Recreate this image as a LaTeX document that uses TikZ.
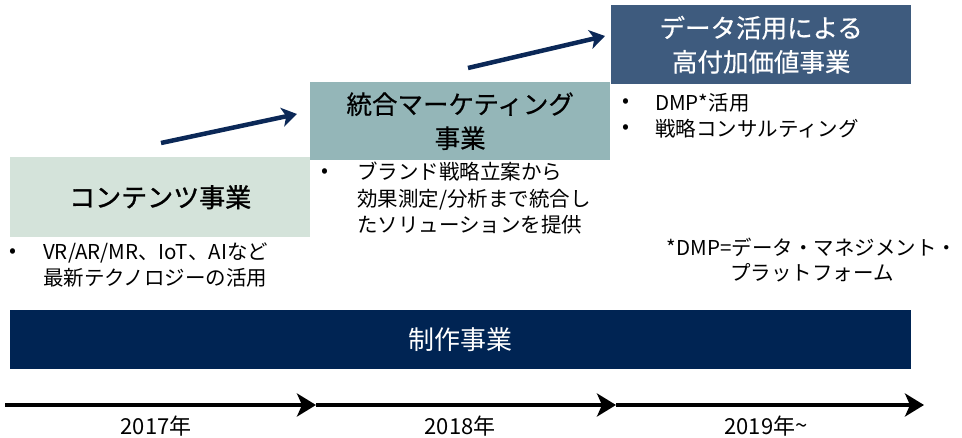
\documentclass[tikz,border=0pt]{standalone}
\usepackage{fontspec}
\setmainfont{Noto Sans CJK JP}
\newfontfamily\semifont[FakeBold=1.2]{Noto Sans CJK JP}
\newfontfamily\lightbold[FakeBold=0.5]{Noto Sans CJK JP}
\usetikzlibrary{arrows.meta}
\definecolor{cbox}{HTML}{D4E3DA}
\definecolor{mbox}{HTML}{94B6B8}
\definecolor{dbox}{HTML}{3E5B7E}
\definecolor{pbar}{HTML}{002453}
\definecolor{arr}{HTML}{0B2857}
\tikzset{
  stage/.style={minimum width=300pt, anchor=north west, inner sep=0pt, align=center},
  titletext/.style={font=\fontsize{25.5}{34}\selectfont\lightbold},
  bodytext/.style={font=\fontsize{20.5}{26.5}\selectfont, align=left, anchor=west, inner sep=0pt},
  bulletmark/.style={font=\fontsize{20.5}{26.5}\selectfont, inner sep=0pt},
  growth/.style={draw=arr, line width=4.5pt, -{Stealth[length=15pt,width=19pt,inset=4pt]}},
  timeline/.style={draw=black, line width=4.5pt, -{Stealth[length=19pt,width=23pt,inset=5pt]}},
  yeartext/.style={font=\fontsize{22}{26}\selectfont, inner sep=0pt}
}
\begin{document}
\begin{tikzpicture}[x=1pt,y=-1pt]
\useasboundingbox (0,0) rectangle (962,438);
% stage boxes
\node[stage, fill=cbox, minimum height=80pt] (content) at (10,157) {};
\node[font=\fontsize{26}{34}\selectfont\semifont] at (content.center) (contentT) {コンテンツ事業};
\node[stage, fill=mbox, minimum height=78pt] (market) at (310,82) {};
\node[titletext, align=center] at (market.center) (marketT) {統合マーケティング\\事業};
\node[stage, fill=dbox, minimum height=79pt] (data) at (611,5) {};
\node[titletext, align=center, text=white] at (data.center) (dataT) {データ活用による\\高付加価値事業};
% bullets
\node[bulletmark] (b1) at (13,253) {•};
\node[bodytext] (t1) at (43,265) {VR/AR/MR、IoT、AIなど\\最新テクノロジーの活用};
\node[bulletmark] (b2) at (325,173) {•};
\node[bodytext] (t2) at (357,198.5) {ブランド戦略立案から\\効果測定/分析まで統合し\\たソリューションを提供};
\node[bulletmark] (b3) at (626,103) {•};
\node[bulletmark] (b4) at (626,129) {•};
\node[bodytext] (t3) at (655,116) {DMP*活用\\戦略コンサルティング};
\node[font=\fontsize{20.5}{25}\selectfont, align=center, inner sep=0pt] (note) at (812,260) {*DMP=データ・マネジメント・\\プラットフォーム};
% growth arrows
\coordinate (g1s) at (161,143);
\coordinate (g1e) at (297,114);
\coordinate (g2s) at (468,68);
\coordinate (g2e) at (605,36);
\draw[growth] (g1s) -- (g1e);
\draw[growth] (g2s) -- (g2e);
% production bar
\node[anchor=north west, fill=pbar, minimum width=901pt, minimum height=59pt, inner sep=0pt] (prod) at (10,310) {};
\node[text=white, font=\fontsize{26}{30}\selectfont] (prodT) at (prod.center) {制作事業};
% timeline
\coordinate (tl0) at (5,405);
\coordinate (tl1) at (316,405);
\coordinate (tl2) at (616,405);
\coordinate (tl3) at (924,405);
\draw[timeline] (tl0) -- (tl1);
\draw[timeline] (tl1) -- (tl2);
\draw[timeline] (tl2) -- (tl3);
\node[yeartext] (y1) at (156,426) {2017年};
\node[yeartext] (y2) at (460,426) {2018年};
\node[yeartext] (y3) at (766,426) {2019年\raisebox{1pt}{\textasciitilde}};
\end{tikzpicture}
\end{document}
